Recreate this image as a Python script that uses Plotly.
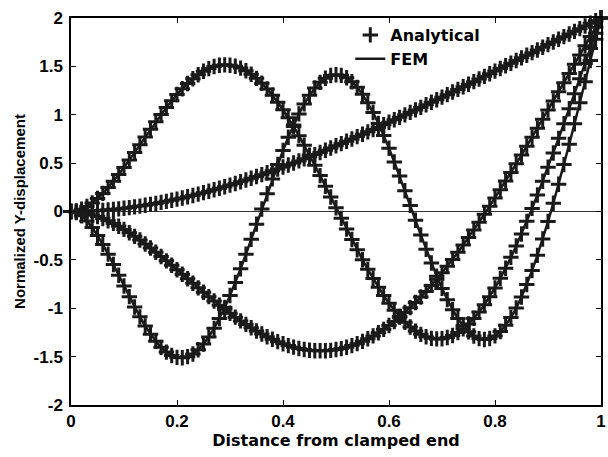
import plotly.graph_objects as go

# Sample positions along the beam (normalised length)
x = [i / 100 for i in range(101)]

# Normalised transverse displacement of the first four bending modes
mode1 = [0.000, 0.000, 0.001, 0.003, 0.006, 0.009, 0.012, 0.017, 0.022, 0.027,
         0.034, 0.040, 0.048, 0.056, 0.064, 0.074, 0.083, 0.094, 0.105, 0.116,
         0.128, 0.140, 0.153, 0.166, 0.180, 0.195, 0.209, 0.225, 0.240, 0.256,
         0.273, 0.290, 0.307, 0.325, 0.343, 0.362, 0.381, 0.400, 0.420, 0.439,
         0.460, 0.480, 0.501, 0.523, 0.544, 0.566, 0.588, 0.610, 0.633, 0.656,
         0.679, 0.702, 0.726, 0.750, 0.774, 0.798, 0.823, 0.847, 0.872, 0.897,
         0.922, 0.948, 0.973, 0.999, 1.025, 1.050, 1.076, 1.103, 1.129, 1.155,
         1.182, 1.208, 1.235, 1.262, 1.289, 1.315, 1.342, 1.370, 1.397, 1.424,
         1.451, 1.478, 1.506, 1.533, 1.560, 1.588, 1.615, 1.642, 1.670, 1.697,
         1.725, 1.752, 1.780, 1.807, 1.835, 1.862, 1.890, 1.917, 1.945, 1.972,
         2.000]

mode2 = [0.000, -0.002, -0.009, -0.019, -0.033, -0.051, -0.072, -0.096, -0.123, -0.153,
         -0.185, -0.220, -0.257, -0.295, -0.336, -0.378, -0.421, -0.465, -0.510, -0.556,
         -0.602, -0.649, -0.695, -0.742, -0.789, -0.835, -0.880, -0.925, -0.968, -1.011,
         -1.052, -1.092, -1.131, -1.167, -1.202, -1.235, -1.266, -1.295, -1.321, -1.345,
         -1.367, -1.386, -1.402, -1.416, -1.426, -1.434, -1.439, -1.440, -1.439, -1.435,
         -1.427, -1.417, -1.403, -1.386, -1.366, -1.342, -1.316, -1.286, -1.254, -1.218,
         -1.179, -1.137, -1.092, -1.044, -0.994, -0.940, -0.884, -0.826, -0.764, -0.700,
         -0.634, -0.566, -0.495, -0.422, -0.347, -0.270, -0.191, -0.111, -0.029, 0.055,
         0.140, 0.226, 0.314, 0.403, 0.493, 0.583, 0.675, 0.767, 0.860, 0.954,
         1.048, 1.142, 1.237, 1.332, 1.427, 1.522, 1.618, 1.713, 1.809, 1.904,
         2.000]

mode3 = [0.000, 0.006, 0.023, 0.051, 0.088, 0.134, 0.187, 0.247, 0.312, 0.382,
         0.456, 0.533, 0.611, 0.691, 0.770, 0.850, 0.927, 1.003, 1.075, 1.144,
         1.209, 1.269, 1.323, 1.372, 1.414, 1.449, 1.477, 1.498, 1.511, 1.516,
         1.512, 1.501, 1.482, 1.455, 1.419, 1.376, 1.325, 1.267, 1.202, 1.130,
         1.052, 0.968, 0.878, 0.784, 0.686, 0.583, 0.478, 0.371, 0.261, 0.150,
         0.039, -0.071, -0.181, -0.290, -0.396, -0.499, -0.598, -0.693, -0.784, -0.869,
         -0.948, -1.020, -1.086, -1.144, -1.194, -1.236, -1.270, -1.295, -1.311, -1.317,
         -1.315, -1.303, -1.282, -1.251, -1.212, -1.163, -1.105, -1.039, -0.964, -0.881,
         -0.790, -0.691, -0.586, -0.474, -0.356, -0.232, -0.102, 0.032, 0.170, 0.312,
         0.457, 0.605, 0.756, 0.908, 1.062, 1.217, 1.373, 1.529, 1.686, 1.843,
         2.000]

mode4 = [0.000, -0.012, -0.045, -0.097, -0.165, -0.247, -0.340, -0.441, -0.548, -0.659,
         -0.770, -0.880, -0.987, -1.089, -1.183, -1.268, -1.342, -1.404, -1.453, -1.488,
         -1.508, -1.512, -1.500, -1.473, -1.429, -1.370, -1.296, -1.208, -1.106, -0.993,
         -0.868, -0.733, -0.591, -0.442, -0.288, -0.131, 0.026, 0.183, 0.337, 0.487,
         0.631, 0.767, 0.893, 1.009, 1.112, 1.201, 1.276, 1.335, 1.378, 1.405,
         1.414, 1.407, 1.382, 1.341, 1.283, 1.211, 1.123, 1.023, 0.910, 0.786,
         0.653, 0.512, 0.366, 0.215, 0.063, -0.090, -0.242, -0.390, -0.533, -0.668,
         -0.795, -0.911, -1.015, -1.106, -1.182, -1.243, -1.287, -1.314, -1.323, -1.313,
         -1.286, -1.240, -1.177, -1.096, -0.998, -0.883, -0.754, -0.610, -0.453, -0.284,
         -0.104, 0.085, 0.282, 0.485, 0.694, 0.907, 1.123, 1.341, 1.560, 1.780,
         2.000]

modes = [mode1, mode2, mode3, mode4]

x_ticks = [0, 0.2, 0.4, 0.6, 0.8, 1]
x_tick_labels = ["0", "0.2", "0.4", "0.6", "0.8", "1"]
y_ticks = [-2, -1.5, -1, -0.5, 0, 0.5, 1, 1.5, 2]
y_tick_labels = ["-2", "-1.5", "-1", "-0.5", "0", "0.5", "1", "1.5", "2"]

FONT = "Liberation Sans, Arial, Helvetica, sans-serif"
WIDE_FONT = "DejaVu Sans, Verdana, sans-serif"
INK = "#1a1a1a"

fig = go.Figure()

# FEM solution: solid lines
for i, y in enumerate(modes):
    fig.add_trace(go.Scatter(
        x=x, y=y, mode="lines", name="FEM",
        line=dict(color=INK, width=2.5),
        showlegend=(i == 0), legendrank=2,
    ))

# Analytical solution: '+' markers, densely packed
for i, y in enumerate(modes):
    fig.add_trace(go.Scatter(
        x=x, y=y, mode="markers", name="Analytical",
        marker=dict(symbol="cross-thin", size=11, color=INK,
                    line=dict(color=INK, width=3)),
        cliponaxis=False,
        showlegend=(i == 0), legendrank=1,
    ))

axis_common = dict(
    showline=True, linecolor="black", linewidth=1.5, mirror="ticks",
    ticks="inside", ticklen=5, tickwidth=1.2, tickcolor="black",
    showgrid=False,
    tickfont=dict(family=FONT, size=17, color="black", weight="bold"),
)

fig.update_xaxes(
    range=[0, 1], tickvals=x_ticks, ticktext=x_tick_labels, zeroline=False,
    title=dict(text="Distance from clamped end", standoff=3,
               font=dict(family=WIDE_FONT, size=16, color="black", weight="bold")),
    **axis_common,
)
fig.update_yaxes(
    range=[-2, 2], tickvals=y_ticks, ticktext=y_tick_labels,
    zeroline=True, zerolinecolor="#333333", zerolinewidth=1.2,
    ticklabelstandoff=3,
    title=dict(text="Normalized Y-displacement", standoff=4,
               font=dict(family=FONT, size=15, color="black", weight="bold")),
    **axis_common,
)

fig.update_layout(
    width=608, height=457,
    margin=dict(l=71, r=7, t=18, b=52, autoexpand=False),
    paper_bgcolor="white", plot_bgcolor="white",
    showlegend=True,
    legend=dict(x=0.527, y=1.0, xanchor="left", yanchor="top",
                bgcolor="rgba(0,0,0,0)", borderwidth=0,
                font=dict(family=WIDE_FONT, size=16, color="black", weight="bold"),
                tracegroupgap=0),
)

fig.write_html("out.html")
